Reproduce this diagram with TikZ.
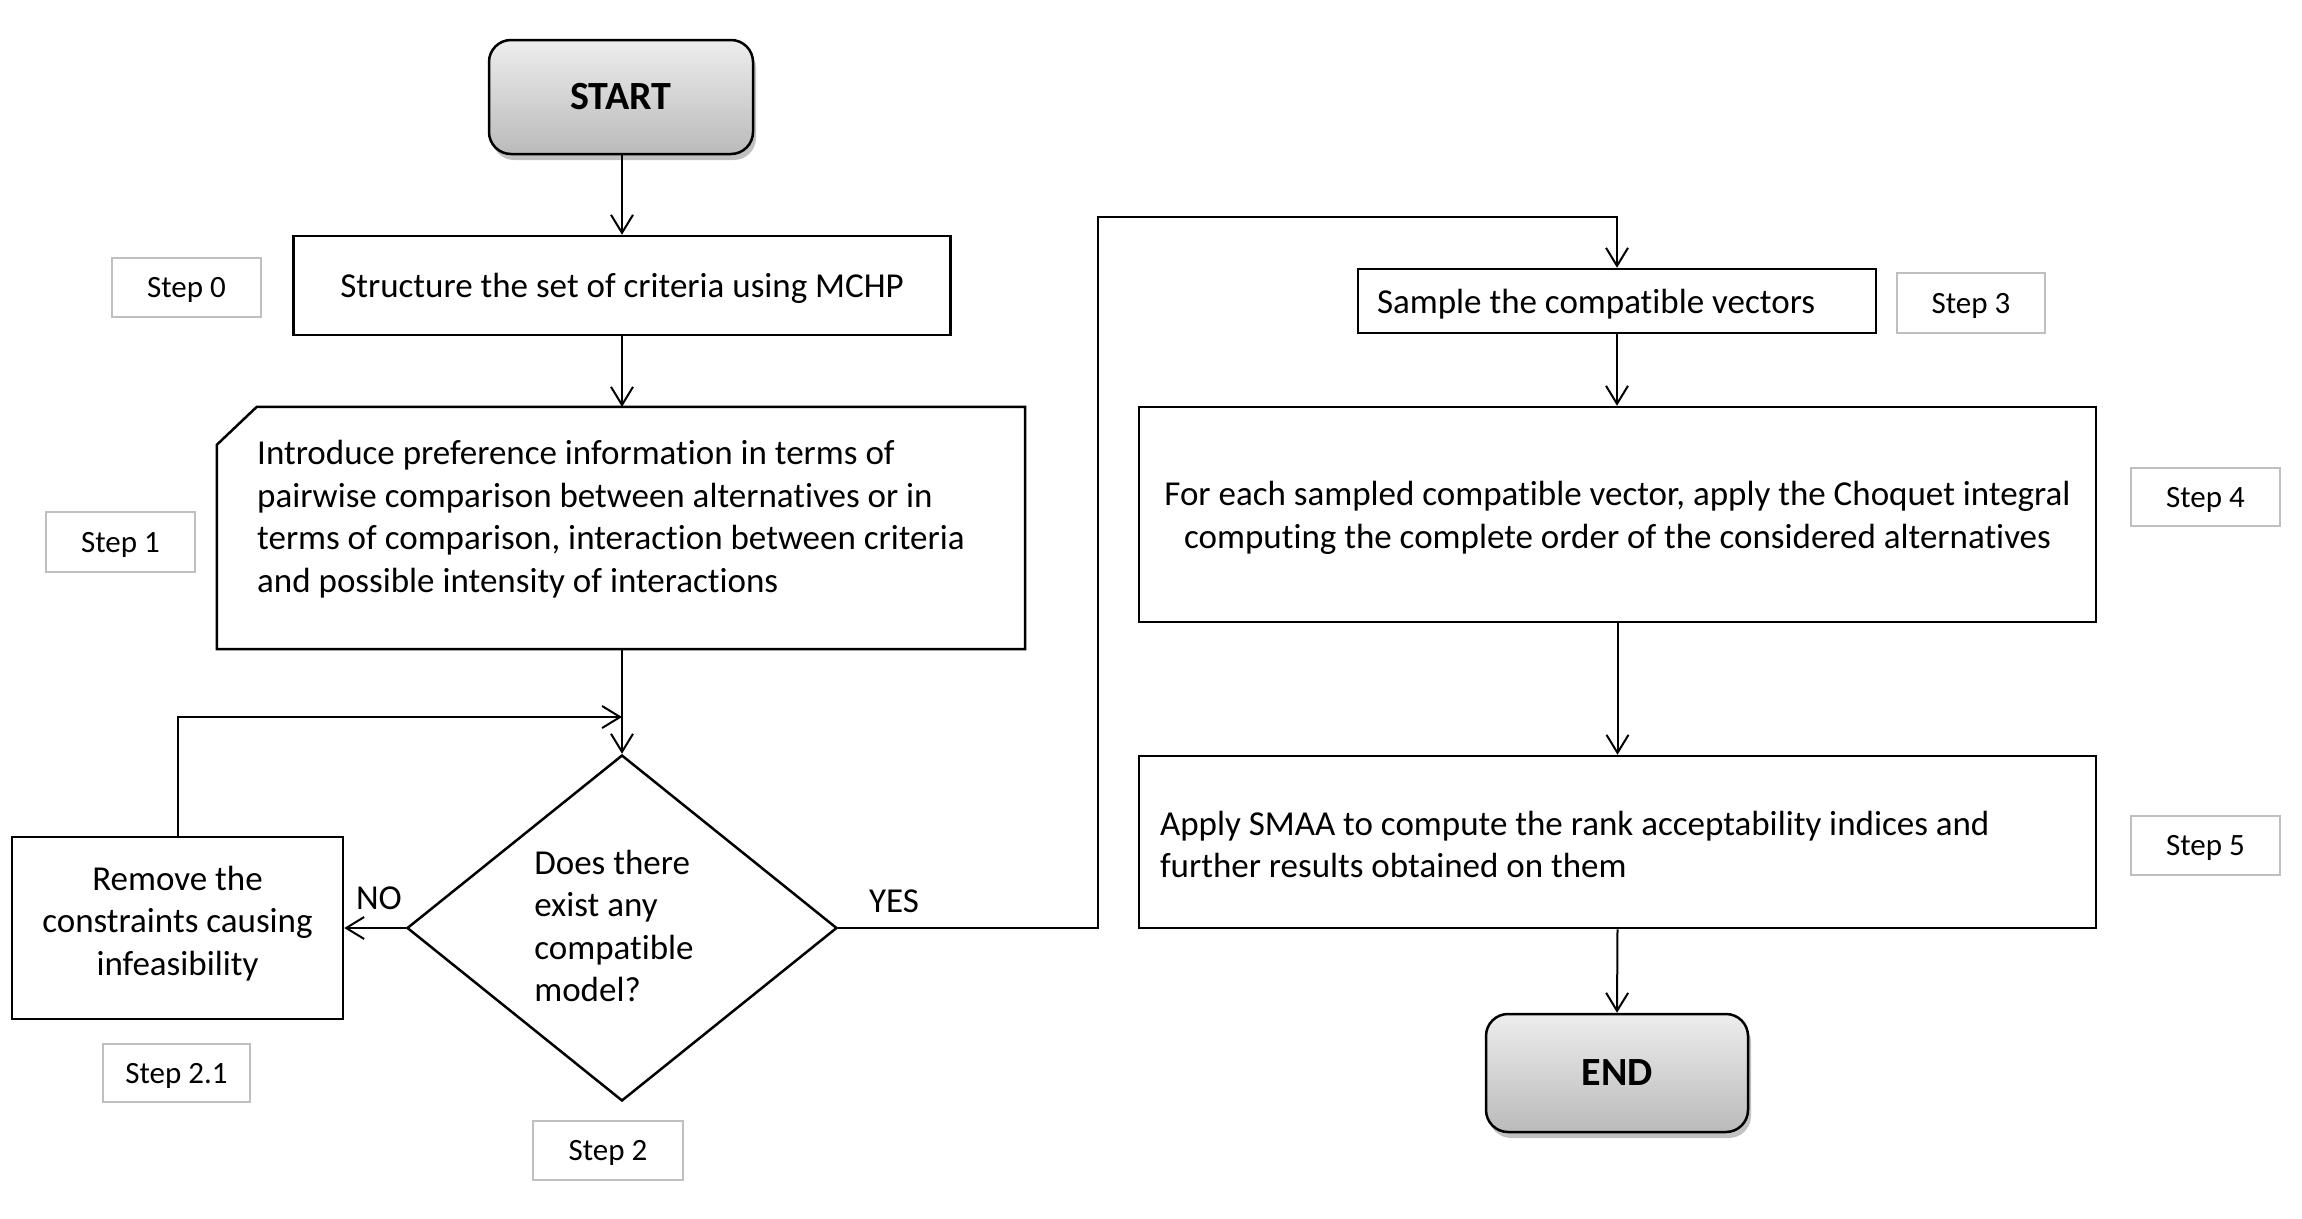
\documentclass[tikz,border=0pt]{standalone}
\usepackage{fontspec}
\setmainfont{Carlito}[Ligatures=NoCommon]
\usetikzlibrary{arrows.meta,shapes.geometric,shadows,calc}
\definecolor{lblgray}{RGB}{191,191,191}
\newcommand\mainfs{\fontsize{35}{42.5}\selectfont}
\newcommand\lblfs{\fontsize{31}{37}\selectfont}
\begin{document}
\begin{tikzpicture}[x=1pt,y=-1pt,
  box/.style={draw, line width=2.5pt, fill=white, inner sep=0pt, font=\mainfs},
  term/.style={draw, line width=2.5pt, rounded corners=22pt, inner sep=0pt,
    top color=black!7, bottom color=black!27,
    drop shadow={shadow xshift=3pt, shadow yshift=-6pt, opacity=0.35, fill=black!70},
    font=\bfseries\fontsize{40}{46}\selectfont},
  lbl/.style={draw=lblgray, line width=2pt, fill=white, inner sep=0pt, text depth=0pt, font=\lblfs},
  txt/.style={inner sep=0pt, font=\mainfs},
  conn/.style={line width=2pt, -{Straight Barb[length=18pt,width=22pt]}},
  line/.style={line width=2pt}]
\useasboundingbox (0,0) rectangle (2302,1218);

% nodes
\node[term, minimum width=264pt, minimum height=114pt] (start) at (621,97) {START};
\node[box, text depth=0pt, minimum width=657pt, minimum height=99pt] (s0) at (622,285.5) {Structure the set of criteria using MCHP};
\node[lbl, minimum width=149pt, minimum height=59pt] (l0) at (186.5,287.5) {Step 0};

\node[draw=none, inner sep=0pt, minimum width=808pt, minimum height=242pt] (s1) at (621,528) {};
\draw[line width=2.5pt, fill=white] ($(s1.north west)+(40,0)$) -- (s1.north east) -- (s1.south east) -- (s1.south west) -- ($(s1.north west)+(0,38)$) -- cycle;
\node[txt, anchor=west, align=flush left] (s1t) at (257,519) {Introduce preference information in terms of\\pairwise comparison between alternatives or in\\terms of comparison, interaction between criteria\\and possible intensity of interactions};
\node[lbl, minimum width=149pt, minimum height=60pt] (l1) at (120.5,542) {Step 1};

\node[diamond, draw, line width=2.5pt, inner sep=0pt, minimum width=430pt, minimum height=346pt] (d) at (622,928) {};
\node[txt, align=flush left] (dt) at (614,926) {Does there\\exist any\\compatible\\model?};
\node[lbl, minimum width=150pt, minimum height=59pt] (l2) at (608,1150.5) {Step 2};

\node[box, align=center, text depth=15pt, minimum width=331pt, minimum height=182pt] (rem) at (177.5,928) {Remove the\\constraints causing\\infeasibility};
\node[lbl, minimum width=147pt, minimum height=58pt] (l21) at (176.5,1073) {Step 2.1};

\node[box, minimum width=512pt, minimum height=64pt, text depth=0pt, align=flush left, text width=480pt, inner xsep=19pt] (s3) at (1617,301) {Sample the compatible vectors};
\node[lbl, minimum width=148pt, minimum height=60pt] (l3) at (1971,303) {Step 3};

\node[box, minimum width=957pt, minimum height=215pt] (s4) at (1617.5,514.5) {};
\node[txt, align=center] (s4t) at (1617.5,518) {For each sampled compatible vector, apply the Choquet integral\\computing the complete order of the considered alternatives};
\node[lbl, minimum width=149pt, minimum height=58pt] (l4) at (2205.5,497) {Step 4};

\node[box, align=flush left, text height=29pt, text width=915pt, inner xsep=21pt, minimum width=957pt, minimum height=172pt] (s5) at (1617.5,842) {Apply SMAA to compute the rank acceptability indices and\\further results obtained on them};
\node[lbl, minimum width=149pt, minimum height=59pt] (l5) at (2205.5,845.5) {Step 5};

\node[term, minimum width=262pt, minimum height=118pt] (end) at (1617,1073) {END};

\node[txt] (no) at (379,898) {NO};
\node[txt] (yes) at (894,901) {YES};

% connectors
\draw[conn] (start.south -| s0.north) -- (s0.north);
\draw[conn] (s0.south) -- (s0.south |- s1.north);
\draw[conn] (s0.south |- s1.south) -- (d.north);
\coordinate (loopend) at (622,717);
\draw[conn] (rem.north) |- (loopend);
\draw[conn] (d.west) -- (rem.east);
\coordinate (yA) at (1098,928);
\coordinate (yB) at (1098,217);
\draw[conn] (d.east) -- (yA) -- (yB) -| (s3.north);
\draw[conn] (s3.south) -- (s3.south |- s4.north);
\draw[conn] (s4.south) -- (s5.north);
\draw[conn] (s5.south) -- (end.north);
\end{tikzpicture}
\end{document}
